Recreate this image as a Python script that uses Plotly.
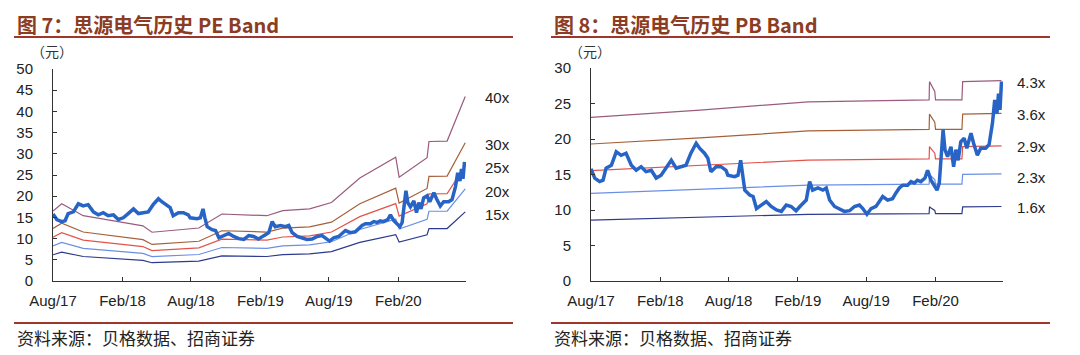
import plotly.graph_objects as go

# ---------------- data ----------------
price_dates = [
    "2017-08-01", "2017-08-11", "2017-08-24", "2017-09-02", "2017-09-10", "2017-09-24", "2017-10-07",
    "2017-10-20", "2017-11-02", "2017-11-16", "2017-11-29", "2017-12-12", "2017-12-25", "2018-01-08",
    "2018-01-21", "2018-02-03", "2018-02-16", "2018-03-02", "2018-03-15", "2018-03-28", "2018-04-10",
    "2018-04-23", "2018-05-07", "2018-05-16", "2018-05-29", "2018-06-07", "2018-06-15", "2018-06-29",
    "2018-07-12", "2018-07-25", "2018-07-30", "2018-08-17", "2018-08-26", "2018-09-02", "2018-09-07",
    "2018-09-13", "2018-09-26", "2018-10-05", "2018-10-14", "2018-10-27", "2018-11-09", "2018-11-22",
    "2018-12-06", "2018-12-19", "2019-01-01", "2019-01-14", "2019-01-27", "2019-02-10", "2019-02-23",
    "2019-03-04", "2019-03-12", "2019-03-26", "2019-04-08", "2019-04-17", "2019-04-26", "2019-05-09",
    "2019-05-22", "2019-06-04", "2019-06-18", "2019-07-01", "2019-07-14", "2019-07-23", "2019-08-03",
    "2019-08-14", "2019-08-27", "2019-09-14", "2019-09-27", "2019-10-10", "2019-10-19", "2019-10-28",
    "2019-11-06", "2019-11-19", "2019-11-28", "2019-12-07", "2019-12-15", "2019-12-24", "2020-01-04",
    "2020-01-11", "2020-01-20", "2020-01-29", "2020-02-05", "2020-02-11", "2020-02-17", "2020-02-21",
    "2020-02-26", "2020-03-04", "2020-03-13", "2020-03-20", "2020-03-26", "2020-04-01", "2020-04-08",
    "2020-04-17", "2020-04-24", "2020-05-05", "2020-05-12", "2020-05-22", "2020-05-31", "2020-06-13",
    "2020-06-22", "2020-07-01", "2020-07-07", "2020-07-13", "2020-07-17", "2020-07-21", "2020-07-25",
]
price_values = [
    15.8, 14.5, 14.0, 14.2, 15.9, 16.3, 18.2,
    17.7, 18.0, 16.3, 15.6, 16.1, 15.4, 15.6,
    14.5, 14.9, 15.9, 17.0, 15.9, 16.1, 16.3,
    18.0, 19.4, 18.7, 18.0, 17.3, 15.4, 16.1,
    16.1, 15.6, 14.9, 14.7, 14.9, 17.0, 14.9,
    12.8, 12.1, 11.9, 10.2, 10.7, 11.2, 10.5,
    10.0, 9.8, 10.7, 10.5, 9.9, 10.7, 11.4,
    14.0, 12.8, 13.1, 12.8, 13.1, 11.4, 10.5,
    10.2, 9.8, 9.9, 10.5, 10.7, 10.2, 9.4,
    10.2, 10.5, 11.9, 11.4, 11.6, 12.4, 13.1,
    13.5, 13.5, 14.0, 13.8, 14.2, 14.0, 14.5,
    15.6, 14.2, 13.3, 12.8, 13.8, 17.5, 21.3,
    18.5, 17.5, 18.9, 16.1, 18.5, 17.0, 19.6,
    20.1, 18.7, 20.8, 19.4, 17.7, 18.7, 18.7,
    19.2, 22.2, 25.5, 23.6, 26.4, 24.1, 28.1,
]

# PE band: EPS (vertices of the band lines)
pe_dates = [
    "2017-08-01", "2017-08-24", "2017-10-20", "2018-03-27", "2018-04-20", "2018-08-22",
    "2018-10-22", "2019-02-18", "2019-04-01", "2019-06-11", "2019-08-08", "2019-10-22",
    "2020-01-25", "2020-02-03", "2020-04-17", "2020-04-22", "2020-06-09", "2020-07-27",
]
pe_eps = [
    0.4125, 0.455, 0.385, 0.325, 0.2875, 0.3125,
    0.395, 0.385, 0.415, 0.425, 0.4625, 0.6075,
    0.73, 0.6125, 0.7275, 0.8225, 0.825, 1.0875,
]
pe_multiples = [15, 20, 25, 30, 40]
pe_labels = ["15x", "20x", "25x", "30x", "40x"]
pe_label_y = [15.8, 21.2, 26.7, 32.3, 43.2]

# PB band: BPS
pb_dates = [
    "2017-08-01", "2018-05-17", "2019-02-28", "2020-01-15", "2020-01-16", "2020-01-19",
    "2020-01-30", "2020-02-01", "2020-04-11", "2020-04-13", "2020-07-25",
]
pb_bps = [5.36, 5.60, 5.87, 5.93, 6.53, 6.45, 6.21, 5.93, 5.93, 6.53, 6.56]
pb_multiples = [1.6, 2.3, 2.9, 3.6, 4.3]
pb_labels = ["1.6x", "2.3x", "2.9x", "3.6x", "4.3x"]
pb_label_y = [10.3, 14.6, 19.0, 23.5, 27.9]

band_colors = ["#2E3A8F", "#6B8FE6", "#E2544B", "#A5603A", "#9B5B7E"]
price_color = "#2764C6"

tick_vals = ["2017-08-01", "2018-02-01", "2018-08-01", "2019-02-01", "2019-08-01", "2020-02-01"]
tick_text = ["Aug/17", "Feb/18", "Aug/18", "Feb/19", "Aug/19", "Feb/20"]

# ---------------- figure ----------------
W, H = 1080, 355


def px_x(x):
    return x / W


def px_y(y):
    return (H - y) / H


fig = go.Figure()

for m, c in zip(pe_multiples, band_colors):
    fig.add_trace(go.Scatter(x=pe_dates, y=[e * m for e in pe_eps], mode="lines",
                             line=dict(color=c, width=1.2), xaxis="x", yaxis="y",
                             showlegend=False, hoverinfo="skip"))
fig.add_trace(go.Scatter(x=price_dates, y=price_values, mode="lines",
                         line=dict(color=price_color, width=3.5), xaxis="x", yaxis="y",
                         showlegend=False))

for m, c in zip(pb_multiples, band_colors):
    fig.add_trace(go.Scatter(x=pb_dates, y=[b * m for b in pb_bps], mode="lines",
                             line=dict(color=c, width=1.2), xaxis="x2", yaxis="y2",
                             showlegend=False, hoverinfo="skip"))
fig.add_trace(go.Scatter(x=price_dates, y=price_values, mode="lines",
                         line=dict(color=price_color, width=3.5), xaxis="x2", yaxis="y2",
                         showlegend=False))

tick_font = dict(family="Liberation Sans, Arial, sans-serif", size=15, color="#222")
xcommon = dict(type="date", range=["2017-08-01", "2020-07-29"], tickmode="array",
               tickvals=tick_vals, ticktext=tick_text, ticks="inside", ticklen=4,
               tickcolor="#333", showline=True, linecolor="#333", linewidth=1,
               showgrid=False, zeroline=False, tickfont=tick_font, automargin=False,
               ticklabelstandoff=6)
ycommon = dict(ticks="inside", ticklen=4, tickcolor="#333", showline=True,
               linecolor="#333", linewidth=1, showgrid=False, zeroline=False,
               tickfont=tick_font, dtick=5, ticklabelstandoff=16, automargin=False)

fig.update_layout(
    template="none",
    width=W, height=H, margin=dict(l=0, r=0, t=0, b=0, pad=0), autosize=False,
    paper_bgcolor="white", plot_bgcolor="white", showlegend=False,
    xaxis=dict(domain=[px_x(53), px_x(466)], anchor="y", **xcommon),
    yaxis=dict(domain=[px_y(281), px_y(69)], anchor="x", range=[0, 50], **ycommon),
    xaxis2=dict(domain=[px_x(591), px_x(1003)], anchor="y2", **xcommon),
    yaxis2=dict(domain=[px_y(281), px_y(68)], anchor="x2", range=[0, 30], **ycommon),
)

title_color = "#8C3C23"
rule_color = "#A0352B"
cjk = "Noto Sans CJK SC"

annotations = []
shapes = []
for x0, x1, title in [(14, 513, "图 7：思源电气历史 PE Band"), (551, 1050, "图 8：思源电气历史 PB Band")]:
    annotations.append(dict(text="<b>" + title + "</b>", x=px_x(x0 + 1), y=px_y(24), xref="paper",
                            yref="paper", xanchor="left", yanchor="middle", showarrow=False,
                            font=dict(family=cjk, size=20, color=title_color)))
    shapes.append(dict(type="line", xref="paper", yref="paper", x0=px_x(x0), x1=px_x(x1),
                       y0=px_y(37), y1=px_y(37), line=dict(color=rule_color, width=2)))
    shapes.append(dict(type="line", xref="paper", yref="paper", x0=px_x(x0), x1=px_x(x1),
                       y0=px_y(323), y1=px_y(323), line=dict(color=rule_color, width=2)))
    annotations.append(dict(text="资料来源：贝格数据、招商证券", x=px_x(x0 + 1), y=px_y(337),
                            xref="paper", yref="paper", xanchor="left", yanchor="middle",
                            showarrow=False, font=dict(family=cjk, size=17, color="#222")))

for xc in (52, 590):
    annotations.append(dict(text="（元）", x=px_x(xc), y=px_y(51), xref="paper", yref="paper",
                            xanchor="center", yanchor="middle", showarrow=False,
                            font=dict(family=cjk, size=14, color="#333")))

for lab, yv in zip(pe_labels, pe_label_y):
    annotations.append(dict(text=lab, x=px_x(483), y=yv, xref="paper", yref="y",
                            xanchor="left", yanchor="middle", showarrow=False, font=tick_font))
for lab, yv in zip(pb_labels, pb_label_y):
    annotations.append(dict(text=lab, x=px_x(1015), y=yv, xref="paper", yref="y2",
                            xanchor="left", yanchor="middle", showarrow=False, font=tick_font))

fig.update_layout(annotations=annotations, shapes=shapes)

fig.write_html("out.html", config={"displayModeBar": False},
               post_script="document.body.style.margin='0';")
